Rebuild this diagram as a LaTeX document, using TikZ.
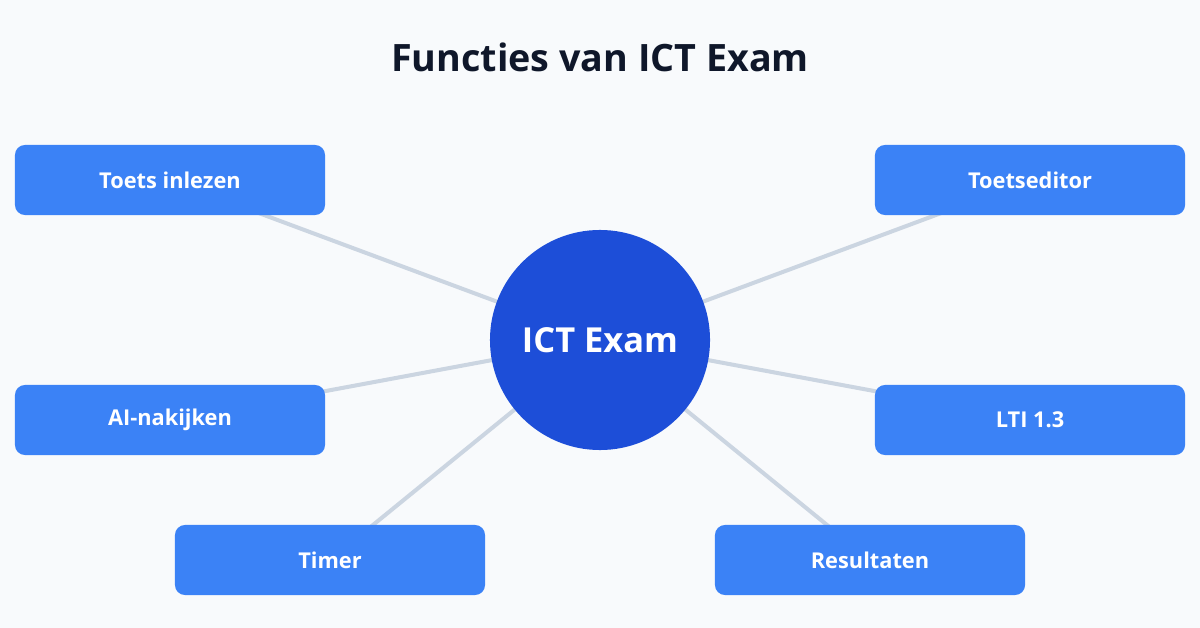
\documentclass[tikz,border=0pt]{standalone}
\usepackage{fontspec}
\setmainfont{Open Sans}
\usetikzlibrary{backgrounds}
\definecolor{pageBg}{HTML}{F8FAFC}
\definecolor{boxBlue}{HTML}{3B82F6}
\definecolor{hubBlue}{HTML}{1D4ED8}
\definecolor{spokeGray}{HTML}{CBD5E1}
\definecolor{titleInk}{HTML}{0F172A}
\begin{document}
\begin{tikzpicture}
    [x=0.025cm,y=-0.025cm,
      feature/.style={rectangle,rounded corners=0.25cm,minimum width=7.75cm,
        minimum height=1.75cm,fill=boxBlue,text=white,
        font=\fontsize{15.5}{18}\selectfont\bfseries},
      hub/.style={circle,minimum size=5.5cm,fill=hubBlue,text=white,
        font=\fontsize{24.5}{29}\selectfont\bfseries},
      spoke/.style={draw=spokeGray,line width=2.85pt}
    ]
    \useasboundingbox (0,0) rectangle (1200,628);

    \node [font=\fontsize{26.8}{32}\selectfont\bfseries,text=titleInk]
      at (600,57) (title) {Functies van ICT Exam};

    \node [hub] at (600,340) (ict) {ICT Exam};

    \node [feature] at (170,180) (inlezen) {Toets inlezen};
    \node [feature] at (1030,180) (editor) {Toetseditor};
    \node [feature] at (170,420) (nakijken) {AI-nakijken};
    \node [feature] at (1030,420) (lti) {LTI 1.3};
    \node [feature] at (330,560) (timer) {Timer};
    \node [feature] at (870,560) (resultaten) {Resultaten};

    \begin{scope}[on background layer]
      \fill [pageBg] (0,0) rectangle (1200,628);
      \foreach \f in {inlezen,editor,nakijken,lti,timer,resultaten}
        \draw [spoke] (ict.center) -- (\f.center);
    \end{scope}
  \end{tikzpicture}
\end{document}
